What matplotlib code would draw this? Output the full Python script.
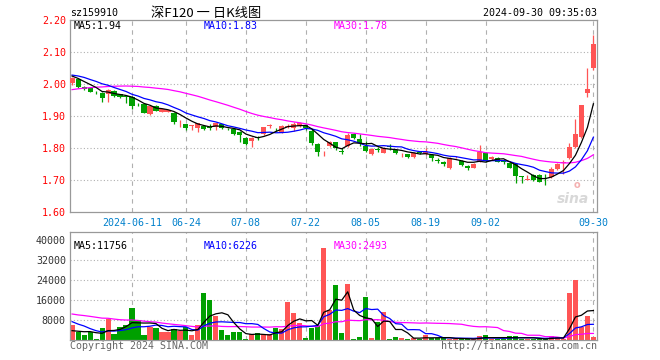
import numpy as np
import pandas as pd
import matplotlib
matplotlib.use("Agg")
from matplotlib import pyplot as plt

# daily candles, 2024-05-27 .. 2024-09-30 (index 0..87)
opens = [2.002, 2.015, 1.990, 1.988, 1.976, 1.973, 1.969, 1.978, 1.968, 1.962,
         1.960, 1.938, 1.937, 1.906, 1.931, 1.913, 1.914, 1.910, 1.884, 1.875,
         1.869, 1.8615, 1.869, 1.864, 1.867, 1.874, 1.859, 1.858, 1.851, 1.832,
         1.822, 1.833, 1.843, 1.869, 1.860, 1.849, 1.866, 1.862, 1.870, 1.873,
         1.854, 1.8125, 1.787, 1.806, 1.818, 1.791, 1.806, 1.843, 1.828, 1.807,
         1.781, 1.796, 1.785, 1.806, 1.794, 1.780, 1.780, 1.771, 1.786, 1.781,
         1.778, 1.762, 1.757, 1.737, 1.771, 1.759, 1.745, 1.738, 1.757, 1.783,
         1.766, 1.770, 1.759, 1.752, 1.749, 1.712, 1.701, 1.716, 1.716, 1.717,
         1.708, 1.733, 1.752, 1.768, 1.802, 1.835, 1.973, 2.049]
highs = [2.022, 2.017, 1.993, 1.990, 1.979, 1.975, 1.985, 1.980, 1.970, 1.966,
         1.962, 1.942, 1.938, 1.933, 1.933, 1.922, 1.920, 1.911, 1.886, 1.876,
         1.871, 1.879, 1.870, 1.874, 1.879, 1.876, 1.862, 1.859, 1.852, 1.833,
         1.834, 1.838, 1.867, 1.876, 1.863, 1.872, 1.876, 1.880, 1.880, 1.876,
         1.858, 1.815, 1.790, 1.823, 1.820, 1.800, 1.846, 1.846, 1.843, 1.823,
         1.800, 1.802, 1.802, 1.814, 1.797, 1.784, 1.782, 1.788, 1.789, 1.799,
         1.780, 1.768, 1.760, 1.772, 1.776, 1.762, 1.746, 1.752, 1.809, 1.786,
         1.775, 1.772, 1.762, 1.754, 1.751, 1.714, 1.716, 1.718, 1.720, 1.718,
         1.742, 1.753, 1.762, 1.815, 1.891, 1.935, 2.049, 2.153]
lows = [1.997, 1.988, 1.980, 1.974, 1.970, 1.945, 1.945, 1.960, 1.957, 1.942,
        1.922, 1.930, 1.908, 1.904, 1.915, 1.911, 1.912, 1.875, 1.867, 1.856,
        1.856, 1.851, 1.856, 1.856, 1.856, 1.858, 1.855, 1.842, 1.820, 1.810,
        1.804, 1.826, 1.841, 1.863, 1.853, 1.846, 1.862, 1.853, 1.866, 1.856,
        1.808, 1.776, 1.776, 1.803, 1.795, 1.780, 1.804, 1.828, 1.806, 1.786,
        1.778, 1.786, 1.783, 1.795, 1.781, 1.772, 1.768, 1.768, 1.780, 1.779,
        1.759, 1.752, 1.745, 1.734, 1.768, 1.744, 1.731, 1.736, 1.755, 1.757,
        1.764, 1.755, 1.750, 1.737, 1.692, 1.692, 1.700, 1.697, 1.693, 1.685,
        1.705, 1.730, 1.720, 1.765, 1.800, 1.831, 1.960, 2.045]
closes = [2.020, 1.990, 1.985, 1.976, 1.975, 1.957, 1.981, 1.963, 1.960, 1.960,
          1.931, 1.936, 1.910, 1.931, 1.917, 1.921, 1.919, 1.882, 1.885, 1.8615,
          1.870, 1.877, 1.858, 1.863, 1.877, 1.8635, 1.858, 1.844, 1.841, 1.8115,
          1.832, 1.831, 1.865, 1.872, 1.858, 1.869, 1.870, 1.874, 1.878, 1.862,
          1.815, 1.789, 1.789, 1.820, 1.800, 1.789, 1.841, 1.830, 1.815, 1.790,
          1.796, 1.794, 1.799, 1.803, 1.784, 1.782, 1.771, 1.785, 1.784, 1.789,
          1.768, 1.760, 1.750, 1.770, 1.773, 1.747, 1.737, 1.750, 1.786, 1.759,
          1.773, 1.757, 1.757, 1.739, 1.714, 1.710, 1.703, 1.700, 1.695, 1.715,
          1.733, 1.750, 1.755, 1.804, 1.844, 1.934, 1.984, 2.125]
volumes = [6000, 3100, 2000, 3100, 400, 4800, 8400, 2400, 5200, 5900,
           12800, 8000, 2000, 5300, 4800, 3300, 3300, 4400, 3600, 5100,
           2000, 6000, 18800, 16000, 9600, 4000, 2000, 3100, 3300, 400,
           2300, 2800, 2300, 2300, 4800, 4300, 15300, 10900, 6900, 900,
           4900, 5700, 37000, 12000, 22000, 2900, 22500, 500, 1200, 17200,
           800, 7300, 11300, 400, 1200, 800, 450, 900, 350, 1900,
           700, 700, 1100, 400, 350, 450, 300, 400, 1600, 2000,
           400, 350, 450, 1600, 1600, 400, 350, 400, 450, 400,
           1600, 1100, 400, 18900, 24000, 5100, 9600, 1300]

# closes / volumes of the 29 sessions before the window (only feed the MAs)
prior_close = [1.915, 1.922, 1.930, 1.928, 1.936, 1.941, 1.938, 1.947, 1.952, 1.949,
               1.958, 1.966, 1.972, 1.980, 1.976, 1.988, 1.995, 1.991, 2.004, 2.006,
               2.018, 2.030, 2.041, 2.035, 2.031, 2.027, 2.033, 2.022, 2.022]
prior_volume = [14200, 9800, 12600, 11000, 15400, 10200, 11800, 13000, 9600,
                12400, 13600, 10400, 12200, 9200, 14800, 11600, 12400, 10800,
                13200, 10467, 12800, 9600, 13467, 8800, 10000, 4200, 3000, 2867, 2600]

date_idx = [10, 19, 29, 39, 49, 59, 69, 87]
date_labels = ["2024-06-11", "06-24", "07-08", "07-22", "08-05", "08-19", "09-02", "09-30"]
price_ticks = [1.60, 1.70, 1.80, 1.90, 2.00, 2.10, 2.20]
vol_ticks = [8000, 16000, 24000, 32000, 40000]

RED = "#ff5555"
GREEN = "#00a000"
MONO = "DejaVu Sans Mono"
FS = 7.2

n = len(closes)
x = np.arange(n)
up = np.array(closes) >= np.array(opens)
colors = [RED if u else GREEN for u in up]

cs = pd.Series(prior_close + closes)
vs = pd.Series(prior_volume + volumes, dtype=float)
k = len(prior_close)
ma = {w: cs.rolling(w).mean().values[k:] for w in (5, 10, 30)}
vma = {w: vs.rolling(w).mean().values[k:] for w in (5, 10, 30)}

W, H = 660, 360
fig = plt.figure(figsize=(6.6, 3.6), dpi=100)
ax1 = fig.add_axes([70 / W, 1 - 212 / H, 527 / W, 192 / H])
ax2 = fig.add_axes([70 / W, 1 - 340 / H, 527 / W, 108 / H])

for ax in (ax1, ax2):
    ax.set_xlim(-0.35, 87.6)
    for s in ax.spines.values():
        s.set_color("#999999")
        s.set_linewidth(0.9)
    for d in date_idx:
        ax.axvline(d, color="#b0b0b0", lw=0.8, ls=(0, (4, 4)), zorder=0)
    ax.tick_params(length=0)

# price panel
ax1.set_ylim(1.60, 2.20)
for p in price_ticks[1:-1]:
    ax1.axhline(p, color="#b0b0b0", lw=0.8, ls=(0, (1, 2)), zorder=0)
o = np.array(opens)
c = np.array(closes)
body_lo = np.minimum(o, c)
body_h = np.maximum(np.abs(c - o), 0.0015)
ax1.vlines(x, lows, highs, colors=colors, lw=0.9, zorder=2)
ax1.bar(x, body_h, bottom=body_lo, width=0.85, color=colors, lw=0, zorder=3)
ax1.plot(x, ma[30], color="#ff00ff", lw=0.9, zorder=4)
ax1.plot(x, ma[10], color="#0000ff", lw=0.9, zorder=4)
ax1.plot(x, ma[5], color="#000000", lw=0.9, zorder=4)
ax1.set_yticks(price_ticks)
ax1.set_yticklabels(["%.2f" % p for p in price_ticks], color="#ff0000",
                    fontfamily=MONO, fontsize=FS)
ax1.tick_params(axis="y", pad=3)
ax1.set_xticks(date_idx)
ax1.set_xticklabels(date_labels, color="#0080cc", fontfamily=MONO, fontsize=FS)
ax1.tick_params(axis="x", pad=4)
ax1.text(0.985, 0.03, "sina", transform=ax1.transAxes, ha="right", va="bottom",
         fontsize=10, fontweight="bold", fontstyle="italic", color="#d8d8d8", zorder=1)
ax1.text(0.962, 0.115, "o", transform=ax1.transAxes, ha="center", va="bottom",
         fontsize=7, fontweight="bold", color="#f4b0b0", zorder=1)

# volume panel
ax2.set_ylim(0, 43200)
for v in vol_ticks[:-1]:
    ax2.axhline(v, color="#b0b0b0", lw=0.8, ls=(0, (1, 2)), zorder=0)
ax2.bar(x, volumes, width=0.85, color=colors, lw=0, zorder=2)
ax2.plot(x, vma[30], color="#ff00ff", lw=0.9, zorder=3)
ax2.plot(x, vma[10], color="#0000ff", lw=0.9, zorder=3)
ax2.plot(x, vma[5], color="#000000", lw=0.9, zorder=3)
ax2.set_yticks(vol_ticks)
ax2.set_yticklabels([str(v) for v in vol_ticks], color="#333333",
                    fontfamily=MONO, fontsize=FS)
ax2.tick_params(axis="y", pad=3)
ax2.set_xticks([])


def put(px, py, s, **kw):
    kw.setdefault("fontfamily", MONO)
    kw.setdefault("fontsize", FS)
    kw.setdefault("va", "center")
    fig.text(px / W, 1 - py / H, s, **kw)


put(70, 13, "sz159910")
put(206, 13, "深F120 一 日K线图", ha="center", fontsize=9.5,
    fontfamily=["Noto Sans CJK SC", "DejaVu Sans"])
put(597, 13, "2024-09-30 09:35:03", ha="right")
put(74, 26, "MA5:1.94", color="#000000")
put(204, 26, "MA10:1.83", color="#0000ff")
put(334, 26, "MA30:1.78", color="#ff00ff")
put(74, 246, "MA5:11756", color="#000000")
put(204, 246, "MA10:6226", color="#0000ff")
put(334, 246, "MA30:2493", color="#ff00ff")
put(70, 346, "Copyright 2024 SINA.COM", color="#666666")
put(597, 346, "http://finance.sina.com.cn", ha="right", color="#666666")

fig.savefig("out.png", dpi=100)
